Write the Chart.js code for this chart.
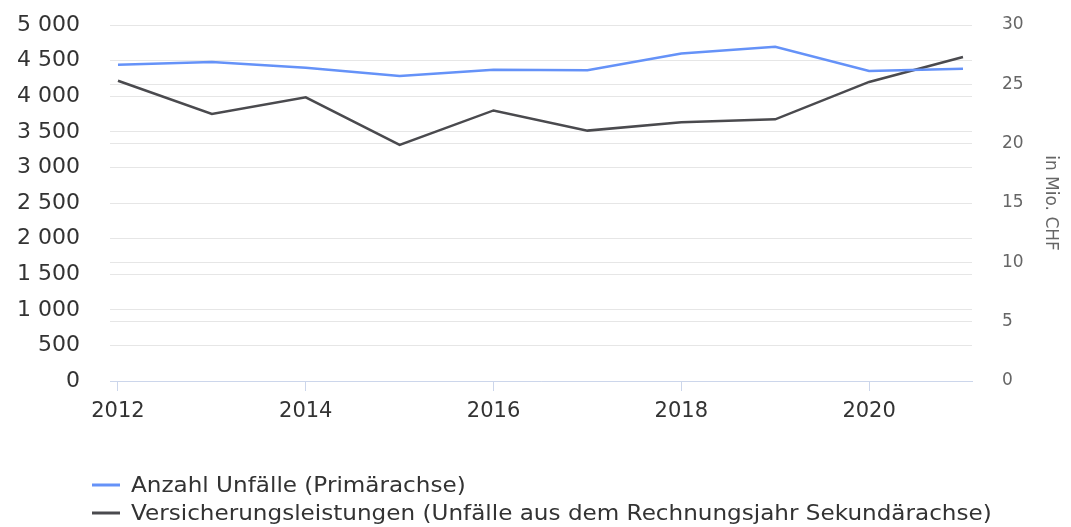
<!DOCTYPE html>
<html>
<head>
<meta charset="utf-8">
<script src="https://cdn.jsdelivr.net/npm/chart.js@4"></script>
<style>
  html, body { margin: 0; padding: 0; background: #fff; }
  #wrap { width: 1071px; height: 527px; }
</style>
</head>
<body>
<div id="wrap"><canvas id="myChart" width="1071" height="527"></canvas></div>
<script>
// values
const years = [2012, 2013, 2014, 2015, 2016, 2017, 2018, 2019, 2020, 2021];
const accidents = [4440, 4480, 4400, 4285, 4370, 4365, 4600, 4695, 4355, 4385];
const benefits = [25.3, 22.5, 23.9, 19.9, 22.8, 21.1, 21.8, 22.05, 25.2, 27.3];
const xTicks = [2012, 2014, 2016, 2018, 2020];
const labels = [
  'Anzahl Unfälle (Primärachse)',
  'Versicherungsleistungen (Unfälle aus dem Rechnungsjahr Sekundärachse)'
];
const axisTitle = 'in Mio. CHF';

const FONT = "'DejaVu Sans', sans-serif";

function spaced(v) {
  return String(v).replace(/\B(?=(\d{3})+(?!\d))/g, ' ');
}

// legend drawn below the plot, one item per line
const bottomLegend = {
  id: 'bottomLegend',
  afterDraw(chart) {
    const ctx = chart.ctx;
    ctx.save();
    ctx.font = '22px ' + FONT;
    ctx.textBaseline = 'middle';
    chart.data.datasets.forEach((ds, i) => {
      const y = 485 + i * 28;
      ctx.strokeStyle = ds.borderColor;
      ctx.lineWidth = 3;
      ctx.beginPath();
      ctx.moveTo(92, y);
      ctx.lineTo(120, y);
      ctx.stroke();
      ctx.fillStyle = '#333333';
      ctx.save();
      ctx.translate(131, y + 1);
      ctx.scale(1.05, 1);
      ctx.fillText(ds.label, 0, 0);
      ctx.restore();
    });
    ctx.restore();
  }
};

// keep the tick padding from pushing the plot down
function tightY(width) {
  return s => {
    s.width = width;
    s.paddingTop = 0;
    s.paddingBottom = 0;
  };
}

window.onload = function() {
  var ctx = document.getElementById('myChart').getContext('2d');
  Chart.defaults.font.family = FONT;
  new Chart(ctx, {
    type: 'line',
    data: {
      datasets: [
        {
          label: labels[0],
          data: years.map((y, i) => ({ x: y, y: accidents[i] })),
          borderColor: '#6592f8',
          borderWidth: 2.5,
          pointRadius: 0,
          yAxisID: 'y',
        },
        {
          label: labels[1],
          data: years.map((y, i) => ({ x: y, y: benefits[i] })),
          borderColor: '#4a4a4e',
          borderWidth: 2.5,
          pointRadius: 0,
          yAxisID: 'y1',
        },
      ],
    },
    options: {
      responsive: false,
      animation: false,
      layout: { padding: { top: 25, left: 0, right: 0, bottom: 0 } },
      plugins: {
        legend: { display: false },
        tooltip: { enabled: false },
      },
      scales: {
        x: {
          type: 'linear',
          min: 2011.915,
          max: 2021.096,
          afterBuildTicks: s => { s.ticks = xTicks.map(v => ({ value: v })); },
          afterFit: s => { s.height = 146; s.paddingLeft = 0; s.paddingRight = 0; },
          grid: {
            drawOnChartArea: false,
            drawTicks: true,
            tickLength: 10,
            tickColor: '#ccd6eb',
          },
          border: { color: '#ccd6eb', width: 1 },
          ticks: {
            color: '#333333',
            font: { size: 21 },
            padding: 8,
            maxRotation: 0,
            callback: v => String(v),
          },
        },
        y: {
          position: 'left',
          min: 0,
          max: 5000,
          afterFit: tightY(110),
          grid: { color: '#e6e6e6', drawTicks: false },
          border: { display: false },
          ticks: {
            stepSize: 500,
            color: '#333333',
            font: { size: 22 },
            padding: 30,
            callback: v => spaced(v),
          },
        },
        y1: {
          position: 'right',
          min: 0,
          max: 30,
          afterFit: tightY(99),
          grid: { color: '#e6e6e6', drawTicks: false },
          border: { display: false },
          ticks: {
            stepSize: 5,
            color: '#666666',
            font: { size: 17 },
            padding: 30,
          },
          title: {
            display: true,
            text: axisTitle,
            color: '#666666',
            font: { size: 17 },
            padding: { top: 10, bottom: 0 },
          },
        },
      },
    },
    plugins: [bottomLegend],
  });
};
</script>
</body>
</html>
